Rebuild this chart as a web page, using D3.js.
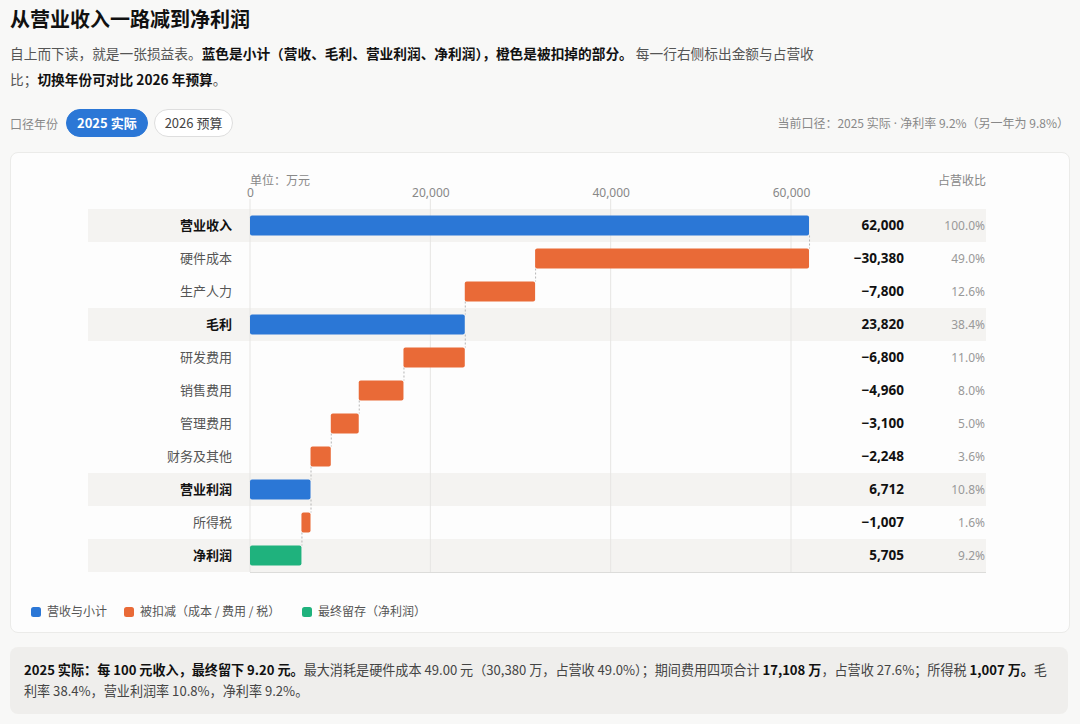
<!DOCTYPE html>
<html>
<head>
<meta charset="utf-8">
<script src="https://cdn.jsdelivr.net/npm/d3@7"></script>
<style>
  body { margin: 0; background: #f8f8f7; font-family: "Noto Sans CJK SC", "Noto Sans", sans-serif; color: #111; }
  .wrap { position: relative; width: 1080px; height: 724px; }
  h1 { position: absolute; left: 10px; top: 4px; margin: 0; font-size: 20px; font-weight: 700; }
  .desc { position: absolute; left: 10px; top: 40px; width: 822px; margin: 0; font-size: 13.7px; line-height: 26px; color: #555; }
  .desc b { color: #111; }
  .ctrl { position: absolute; left: 10px; top: 109px; height: 28px; display: flex; align-items: center; font-size: 12px; color: #888; }
  .pill { height: 26px; line-height: 26px; border-radius: 14px; padding: 0 10px; margin-left: 6px; font-size: 13px; border: 1px solid #dedede; color: #444; background: #fff; }
  .pill.on { background: #2b77d6; border-color: #2b77d6; color: #fff; font-weight: 700; margin-left: 8px; }
  .cur { position: absolute; right: 11px; top: 114px; font-size: 12px; color: #888; }
  .cur .dot { font-family: "Noto Sans", sans-serif; }
  .card { position: absolute; left: 10px; top: 152px; width: 1058px; height: 479px; background: #fdfdfd; border: 1px solid #ebebe9; border-radius: 8px; }
  .foot { position: absolute; left: 10px; top: 647px; width: 1058px; height: 67px; background: #efeeec; border-radius: 8px; box-sizing: border-box; padding: 12px 14px; font-size: 13.1px; line-height: 21px; color: #444; }
  .foot b { color: #111; }
</style>
</head>
<body>
<div class="wrap">
  <h1>从营业收入一路减到净利润</h1>
  <p class="desc">自上而下读，就是一张损益表。<b>蓝色是小计（营收、毛利、营业利润、净利润），橙色是被扣掉的部分。</b> 每一行右侧标出金额与占营收比；<b>切换年份可对比 2026 年预算</b>。</p>
  <div class="ctrl"><span>口径年份</span><span class="pill on">2025 实际</span><span class="pill">2026 预算</span></div>
  <div class="cur">当前口径：2025 实际<span class="dot"> · </span>净利率 9.2%（另一年为 9.8%）</div>
  <div class="card"><svg id="chart" width="1058" height="479"></svg></div>
  <div class="foot"><b>2025 实际：每 100 元收入，最终留下 9.20 元。</b>最大消耗是硬件成本 49.00 元（30,380 万，占营收 49.0%）；期间费用四项合计 <b>17,108 万</b>，占营收 27.6%；所得税 <b>1,007 万。</b>毛利率 38.4%，营业利润率 10.8%，净利率 9.2%。</div>
</div>
<script>
// 2025 实际 (万元)
var categories = ["营业收入", "硬件成本", "生产人力", "毛利", "研发费用", "销售费用", "管理费用", "财务及其他", "营业利润", "所得税", "净利润"];
var values = [62000, -30380, -7800, 23820, -6800, -4960, -3100, -2248, 6712, -1007, 5705];
var kinds = ["total", "minus", "minus", "total", "minus", "minus", "minus", "minus", "total", "minus", "final"];
var tickValues = [0, 20000, 40000, 60000];
var legendItems = [
  {kind: "total", label: "营收与小计"},
  {kind: "minus", label: "被扣减（成本 / 费用 / 税）"},
  {kind: "final", label: "最终留存（净利润）"}
];

var colors = {total: "#2b77d6", minus: "#e96a37", final: "#1fb27d"};
var revenue = values[0];

// running totals -> bar start/end
var run = 0;
var rows = categories.map((c, i) => {
  var v = values[i], k = kinds[i], x0, x1;
  if (k == "minus") { x0 = run + v; x1 = run; run = run + v; }
  else { x0 = 0; x1 = v; run = v; }
  return {name: c, value: v, kind: k, x0: x0, x1: x1, after: run, pct: Math.abs(v) / revenue};
});

var svg = d3.select("#chart");
var x = d3.scaleLinear().domain([0, 60000]).range([239, 780]);
var y = d3.scaleBand().domain(categories).range([56, 419]).paddingInner(0).paddingOuter(0);
var barH = 20;
var bandL = 77, bandR = 975;

// subtotal row background
svg.selectAll("rect.band")
  .data(rows.filter(d => d.kind != "minus"))
  .enter().append("rect")
    .attr("x", bandL).attr("width", bandR - bandL)
    .attr("y", d => y(d.name)).attr("height", y.bandwidth())
    .attr("fill", "#f4f3f1");

// gridlines
svg.selectAll("line.grid")
  .data(tickValues)
  .enter().append("line")
    .attr("x1", d => x(d)).attr("x2", d => x(d))
    .attr("y1", 46).attr("y2", 419)
    .attr("stroke", "#e6e5e3");

// bottom line
svg.append("line")
  .attr("x1", x(0)).attr("x2", bandR)
  .attr("y1", 419.5).attr("y2", 419.5)
  .attr("stroke", "#dcdcda");

// top axis
var axis = svg.append("g")
  .attr("transform", "translate(0,46)")
  .call(d3.axisTop(x).tickValues(tickValues).tickSize(0).tickPadding(2).tickFormat(d3.format(",")));
axis.select(".domain").remove();
axis.selectAll("text").attr("fill", "#888").style("font-size", "12px").style("font-family", "Noto Sans, sans-serif");

svg.append("text").attr("x", x(0)).attr("y", 32)
  .attr("fill", "#888").style("font-size", "12px").text("单位：万元");
svg.append("text").attr("x", bandR).attr("y", 32).attr("text-anchor", "end")
  .attr("fill", "#888").style("font-size", "12px").text("占营收比");

// connectors
svg.selectAll("line.conn")
  .data(rows.slice(0, -1))
  .enter().append("line")
    .attr("x1", d => x(d.after) + 0.5).attr("x2", d => x(d.after) + 0.5)
    .attr("y1", d => y(d.name) + (y.bandwidth() + barH) / 2)
    .attr("y2", (d, i) => y(categories[i + 1]) + (y.bandwidth() - barH) / 2)
    .attr("stroke", "#b5b5b5").attr("stroke-dasharray", "2,2");

// bars
svg.selectAll("rect.bar")
  .data(rows)
  .enter().append("rect")
    .attr("x", d => x(d.x0))
    .attr("width", d => x(d.x1) - x(d.x0))
    .attr("y", d => y(d.name) + (y.bandwidth() - barH) / 2)
    .attr("height", barH)
    .attr("rx", 2)
    .attr("fill", d => colors[d.kind]);

// row labels
svg.selectAll("text.lab")
  .data(rows)
  .enter().append("text")
    .attr("x", 221).attr("y", d => y(d.name) + y.bandwidth() / 2)
    .attr("dy", "0.35em").attr("text-anchor", "end")
    .style("font-size", "13px")
    .style("font-weight", d => d.kind == "minus" ? 400 : 700)
    .attr("fill", d => d.kind == "minus" ? "#555" : "#111")
    .text(d => d.name);

// amounts
var fmt = d3.format(",");
svg.selectAll("text.val")
  .data(rows)
  .enter().append("text")
    .attr("x", 893).attr("y", d => y(d.name) + y.bandwidth() / 2)
    .attr("dy", "0.35em").attr("text-anchor", "end")
    .style("font-size", "13.5px").style("font-weight", 700)
    .style("font-family", "Noto Sans, sans-serif")
    .attr("fill", "#111")
    .text(d => d.value < 0 ? "\u2212" + fmt(-d.value) : fmt(d.value));

// share of revenue
svg.selectAll("text.pct")
  .data(rows)
  .enter().append("text")
    .attr("x", bandR - 1).attr("y", d => y(d.name) + y.bandwidth() / 2)
    .attr("dy", "0.35em").attr("text-anchor", "end")
    .style("font-size", "12px")
    .style("font-family", "Noto Sans, sans-serif")
    .attr("fill", "#999")
    .text(d => d3.format(".1%")(d.pct));

// legend
var lg = svg.selectAll("g.leg")
  .data(legendItems)
  .enter().append("g")
    .attr("transform", (d, i) => `translate(${[20, 113, 291][i]},459)`);
lg.append("rect").attr("x", 0).attr("y", -5).attr("width", 10).attr("height", 10).attr("rx", 2.5)
  .attr("fill", d => colors[d.kind]);
lg.append("text").attr("x", 16).attr("dy", "0.35em")
  .style("font-size", "12px").attr("fill", "#555").text(d => d.label);
</script>
</body>
</html>
